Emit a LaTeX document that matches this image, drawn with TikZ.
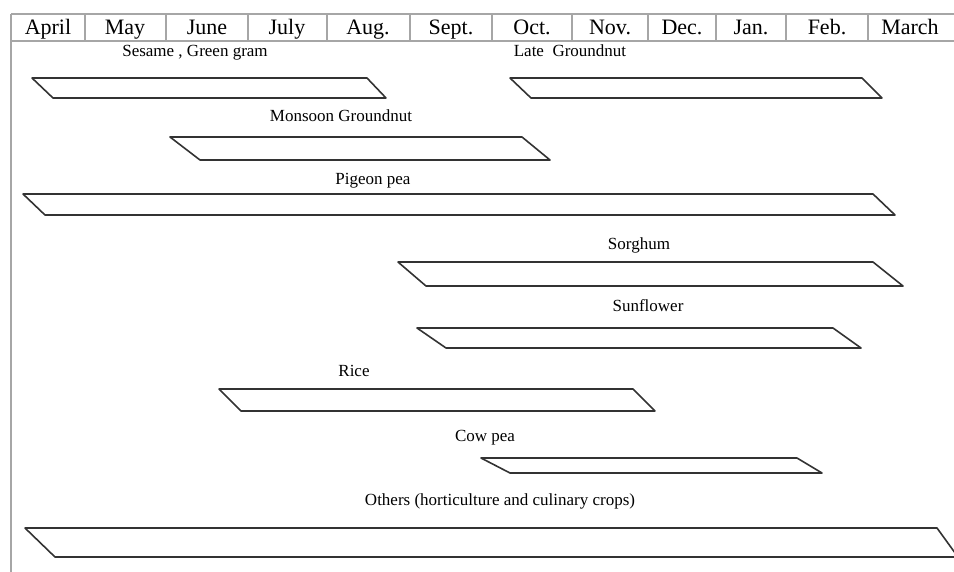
\documentclass[tikz,border=0pt]{standalone}
\usepackage{fontspec}
\setmainfont{Liberation Serif}
\usepackage{tikz}
\usetikzlibrary{calc}
\tikzset{
  cropbar/.style={draw=black!80, line width=1.6pt, line join=round},
  tableline/.style={draw=gray!70, line width=1.8pt},
  month/.style={font=\fontsize{22}{24}\selectfont, inner sep=0pt, anchor=base},
  croplabel/.style={font=\fontsize{17}{20}\selectfont, inner sep=0pt, anchor=base}
}

\begin{document}
\begin{tikzpicture}[x=1pt, y=-1pt]
    \useasboundingbox (0,0) rectangle (954,572);
    \clip (0,0) rectangle (954,572);

    % Month table
    \draw[tableline] (11,14) -- (960,14);
    \draw[tableline] (11,41) -- (960,41);
    \draw[tableline] (11,14) -- (11,572);
    \foreach \xd in {85,166,248,327,410,492,572,648,716,786,868}
        \draw[tableline] (\xd,14) -- (\xd,41);

    % Month names (x = middle of the cell, y = baseline)
    \foreach \xm/\mname in {48/April, 125/May, 207/June, 287/July, 368/Aug., 451/Sept.,
                            532/Oct., 610/Nov., 682/Dec., 751/Jan., 827/Feb., 910/March}
        \node[month] (m-\mname) at (\xm,35) {\mname};

    % Crop bars: top left, top right, bottom right, bottom left
    \draw[cropbar] (32,78) -- (367,78) -- (386,98) -- (53,98) -- cycle;
    \draw[cropbar] (510,78) -- (862,78) -- (882,98) -- (531,98) -- cycle;
    \draw[cropbar] (170,137) -- (522,137) -- (550,160) -- (200,160) -- cycle;
    \draw[cropbar] (23,194) -- (873,194) -- (895,215) -- (45,215) -- cycle;
    \draw[cropbar] (398,262) -- (873,262) -- (903,286) -- (426,286) -- cycle;
    \draw[cropbar] (417,328) -- (833,328) -- (861,348) -- (446,348) -- cycle;
    \draw[cropbar] (219,389) -- (633,389) -- (655,411) -- (241,411) -- cycle;
    \draw[cropbar] (481,458) -- (797,458) -- (822,473) -- (510,473) -- cycle;
    \draw[cropbar] (25,528) -- (937,528) -- (958,557) -- (55,557) -- cycle;

    % Crop names (y = baseline)
    \node[croplabel] (sesame)   at (195,57)  {Sesame , Green gram};
    \node[croplabel] (lategn)   at (570,57)  {Late\ \ Groundnut};
    \node[croplabel] (monsoon)  at (341,122) {Monsoon Groundnut};
    \node[croplabel] (pigeon)   at (373,185) {Pigeon pea};
    \node[croplabel] (sorghum)  at (639,250) {Sorghum};
    \node[croplabel] (sunflower) at (648,312) {Sunflower};
    \node[croplabel] (rice)     at (354,377) {Rice};
    \node[croplabel] (cowpea)   at (485,441) {Cow pea};
    \node[croplabel] (others)   at (500,505) {Others (horticulture and culinary crops)};
\end{tikzpicture}
\end{document}
